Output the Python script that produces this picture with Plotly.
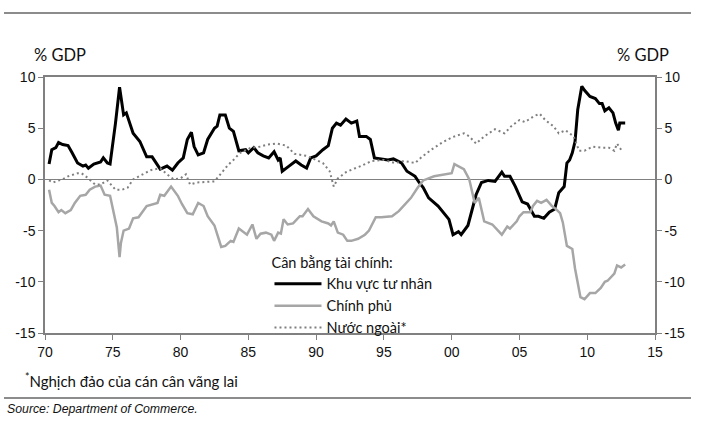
import plotly.graph_objects as go

# ---- data ----
private_x = [1970.3, 1970.5, 1970.8, 1971.0, 1971.3, 1971.7, 1972.0, 1972.2, 1972.4, 1972.8, 1973.0, 1973.2,
             1973.6, 1974.1, 1974.3, 1974.6, 1974.8, 1975.2, 1975.5, 1975.8, 1976.0, 1976.5, 1977.0, 1977.5,
             1977.9, 1978.5, 1979.0, 1979.4, 1979.8, 1980.2, 1980.5, 1980.8, 1981.0, 1981.3, 1981.7, 1982.0,
             1982.5, 1982.7, 1982.9, 1983.3, 1983.6, 1983.9, 1984.3, 1984.8, 1985.0, 1985.4, 1985.7, 1986.1,
             1986.5, 1986.9, 1987.2, 1987.35, 1987.5, 1988.0, 1988.5, 1988.9, 1989.3, 1989.6, 1990.0, 1990.5,
             1990.9, 1991.2, 1991.5, 1991.8, 1992.2, 1992.6, 1993.0, 1993.2, 1993.7, 1994.0, 1994.3, 1994.8,
             1995.3, 1995.7, 1996.3, 1996.7, 1997.3, 1997.6, 1997.9, 1998.3, 1999.0, 1999.8, 2000.1, 2000.5,
             2000.7, 2001.2, 2001.6, 2001.8, 2002.2, 2002.7, 2003.2, 2003.7, 2003.9, 2004.3, 2004.7, 2005.2,
             2005.6, 2006.1, 2006.4, 2006.8, 2007.2, 2007.6, 2007.9, 2008.3, 2008.5, 2008.7, 2008.9, 2009.1,
             2009.3, 2009.6, 2009.8, 2010.2, 2010.6, 2010.9, 2011.1, 2011.3, 2011.6, 2011.9, 2012.1, 2012.3,
             2012.4, 2012.8]
private_y = [1.5, 2.9, 3.1, 3.6, 3.4, 3.3, 2.6, 2.1, 1.6, 1.3, 1.4, 1.1,
             1.5, 1.7, 2.1, 1.6, 1.5, 5.5, 9.0, 6.3, 6.5, 4.5, 3.7, 2.2,
             2.2, 1.0, 1.3, 0.9, 1.6, 2.1, 3.9, 4.6, 3.2, 2.4, 2.6, 3.9,
             5.0, 5.2, 6.3, 6.3, 5.0, 4.7, 2.8, 2.9, 2.6, 3.1, 2.6, 2.3,
             2.1, 2.7, 1.9, 2.1, 0.8, 1.3, 1.8, 1.4, 1.1, 2.1, 2.3, 2.9,
             3.3, 5.0, 5.5, 5.3, 5.9, 5.5, 5.7, 4.2, 4.2, 3.9, 2.1, 2.0,
             1.9, 2.0, 1.6, 0.8, 0.3, -0.3, -0.8, -1.8, -2.6, -3.9, -5.4, -5.1,
             -5.4, -4.5, -2.3, -1.5, -0.3, -0.1, -0.2, 0.7, 0.3, 0.3, -0.7, -2.2,
             -2.4, -3.6, -3.6, -3.8, -3.2, -2.9, -1.3, -0.7, 1.6, 1.9, 2.6, 3.7,
             6.8, 9.1, 8.7, 8.1, 7.9, 7.4, 7.4, 6.7, 7.0, 6.5, 5.5, 4.8,
             5.5, 5.5]

gov_x = [1970.3, 1970.5, 1970.7, 1971.0, 1971.2, 1971.5, 1971.9, 1972.2, 1972.6, 1973.0, 1973.3, 1973.7,
         1974.1, 1974.4, 1974.8, 1975.0, 1975.3, 1975.5, 1975.6, 1975.8, 1976.2, 1976.5, 1976.9, 1977.5,
         1978.0, 1978.3, 1978.5, 1978.8, 1979.3, 1979.8, 1980.1, 1980.5, 1980.9, 1981.3, 1981.7, 1982.0,
         1982.5, 1983.0, 1983.3, 1983.7, 1983.9, 1984.3, 1984.9, 1985.3, 1985.6, 1985.9, 1986.3, 1986.7,
         1986.9, 1987.2, 1987.4, 1987.6, 1987.9, 1988.3, 1988.8, 1989.0, 1989.4, 1989.8, 1990.4, 1990.9,
         1991.1, 1991.3, 1991.6, 1992.0, 1992.3, 1992.6, 1993.1, 1993.6, 1993.9, 1994.4, 1994.8, 1995.6,
         1996.1, 1996.5, 1997.0, 1997.5, 1997.9, 1998.7, 1999.8, 2000.0, 2000.2, 2000.9, 2001.3, 2001.7,
         2002.0, 2002.4, 2003.0, 2003.7, 2004.1, 2004.3, 2004.8, 2005.0, 2005.3, 2005.8, 2006.0, 2006.3,
         2006.6, 2007.0, 2007.4, 2007.7, 2008.0, 2008.2, 2008.5, 2008.9, 2009.1, 2009.5, 2009.8, 2010.2,
         2010.6, 2011.0, 2011.3, 2011.5, 2012.0, 2012.2, 2012.5, 2012.8]
gov_y = [-1.0, -2.3, -2.6, -3.2, -3.0, -3.3, -3.0, -2.3, -1.6, -1.5, -1.0, -0.7,
         -0.6, -1.5, -1.6, -2.9, -4.7, -7.6, -6.2, -5.0, -4.8, -3.8, -3.7, -2.6,
         -2.4, -2.3, -1.5, -1.6, -0.7, -1.6, -2.4, -3.3, -3.4, -2.3, -2.6, -3.6,
         -4.5, -6.6, -6.5, -6.0, -6.1, -4.8, -5.4, -4.4, -5.8, -5.3, -5.2, -5.4,
         -6.0, -5.2, -5.3, -3.9, -4.4, -4.3, -3.6, -3.6, -2.9, -3.6, -4.1, -4.3,
         -4.5, -4.1, -5.2, -5.4, -6.0, -6.0, -5.8, -5.4, -5.0, -3.7, -3.7, -3.6,
         -3.1, -2.5, -1.8, -0.8, -0.1, 0.3, 0.6, 0.6, 1.5, 1.0, 0.0, -2.3,
         -1.8, -4.1, -4.4, -5.4, -4.6, -4.8, -4.1, -3.6, -3.2, -3.2, -2.6, -2.1,
         -2.3, -2.0, -2.6, -2.9, -3.3, -4.2, -6.5, -6.8, -8.7, -11.5, -11.7, -11.1,
         -11.1, -10.6, -10.0, -9.9, -9.2, -8.4, -8.6, -8.3]

foreign_x = [1970.3, 1970.6, 1971.0, 1971.3, 1971.7, 1972.4, 1972.7, 1973.1, 1973.7, 1974.1, 1974.6, 1975.2,
             1975.7, 1976.1, 1976.5, 1977.3, 1977.8, 1978.5, 1979.0, 1979.5, 1980.0, 1980.4, 1980.7, 1981.2,
             1982.0, 1982.5, 1983.0, 1983.5, 1983.9, 1984.4, 1985.2, 1985.9, 1986.4, 1987.1, 1987.8, 1988.4,
             1989.3, 1990.0, 1990.5, 1991.0, 1991.3, 1991.6, 1992.2, 1992.7, 1993.3, 1994.1, 1995.0, 1995.8,
             1996.5, 1997.3, 1997.8, 1998.5, 1999.3, 2000.0, 2000.9, 2001.3, 2001.8, 2002.4, 2003.2, 2003.9,
             2004.4, 2005.0, 2005.4, 2006.1, 2006.5, 2006.9, 2007.5, 2007.9, 2008.4, 2009.0, 2009.4, 2009.8,
             2010.4, 2011.1, 2011.6, 2012.0, 2012.2, 2012.5]
foreign_y = [-0.1, -0.3, -0.1, 0.0, 0.3, 0.6, 0.6, 0.2, -0.5, -0.5, -0.1, -1.0,
             -1.0, -0.8, 0.0, 0.6, 0.9, 1.1, 0.5, 0.0, 0.1, 0.5, -0.5, -0.3,
             -0.2, -0.2, 0.6, 1.4, 1.9, 2.6, 3.1, 3.2, 3.4, 3.5, 3.3, 2.5,
             2.3, 1.9, 1.6, 0.8, -0.7, 0.1, 0.7, 1.0, 1.3, 1.8, 1.9, 1.6,
             1.8, 1.6, 2.2, 2.9, 3.6, 4.1, 4.5, 4.2, 3.5, 4.2, 4.9, 4.5,
             5.2, 5.8, 5.6, 6.2, 6.4, 5.8, 5.2, 4.5, 4.8, 4.2, 2.8, 2.8,
             3.2, 3.1, 3.1, 2.8, 3.5, 2.9]

names = ["Khu vực tư nhân", "Chính phủ", "Nước ngoài*"]
legend_title = "Cân bằng tài chính:"
tick_years = [1970, 1975, 1980, 1985, 1990, 1995, 2000, 2005, 2010, 2015]
tick_labels = ["70", "75", "80", "85", "90", "95", "00", "05", "10", "15"]
y_ticks = [-15, -10, -5, 0, 5, 10]
y_tick_labels = ["-15", "-10", "-5", "0", "5", "10"]

AX = "#808080"
TICKFONT = dict(family="Liberation Sans, Arial", size=14, color="#111")
TXTFONT = "Lato, Open Sans, sans-serif"

fig = go.Figure()
fig.add_trace(go.Scatter(x=private_x, y=private_y, mode="lines", name=names[0],
                         line=dict(color="#000000", width=3)))
fig.add_trace(go.Scatter(x=gov_x, y=gov_y, mode="lines", name=names[1],
                         line=dict(color="#a6a6a6", width=2.5)))
fig.add_trace(go.Scatter(x=foreign_x, y=foreign_y, mode="lines", name=names[2],
                         line=dict(color="#7f7f7f", width=2, dash="2px,3px")))
# invisible trace to activate the right-hand axis
fig.add_trace(go.Scatter(x=[tick_years[0]], y=[0], yaxis="y2", mode="markers",
                         marker=dict(opacity=0), showlegend=False, hoverinfo="skip"))

fig.update_layout(
    width=701, height=421,
    margin=dict(l=45, r=46, t=77, b=88),
    paper_bgcolor="white", plot_bgcolor="white",
    showlegend=True,
    legend=dict(
        title=dict(text=legend_title, font=dict(family=TXTFONT, size=14.5, color="#111")),
        font=dict(family=TXTFONT, size=14.5, color="#111"),
        x=0.368, y=0.328, xanchor="left", yanchor="top",
        bgcolor="rgba(0,0,0,0)", borderwidth=0, itemwidth=47,
        tracegroupgap=0,
    ),
    xaxis=dict(range=[1970, 2015], tickvals=tick_years, ticktext=tick_labels,
               ticks="outside", ticklen=5, tickcolor=AX, showline=True, linecolor=AX,
               linewidth=1.5, mirror=True, showgrid=False, zeroline=False, tickfont=TICKFONT),
    yaxis=dict(range=[-15, 10], tickvals=y_ticks, ticktext=y_tick_labels, ticks="outside",
               ticklen=5, tickcolor=AX, showline=True, linecolor=AX, linewidth=1.5, showgrid=False,
               zeroline=True, zerolinecolor=AX, zerolinewidth=1.2, tickfont=TICKFONT),
    yaxis2=dict(range=[-15, 10], tickvals=y_ticks, ticktext=y_tick_labels, overlaying="y",
                side="right", ticks="outside", ticklen=5, tickcolor=AX, showline=True,
                linecolor=AX, linewidth=1.5, showgrid=False, zeroline=False, tickfont=TICKFONT),
    annotations=[
        dict(text="% GDP", xref="paper", yref="paper", x=0.0238, y=1.086,
             xanchor="center", yanchor="middle", showarrow=False,
             font=dict(family=TXTFONT, size=16.5, color="#111")),
        dict(text="% GDP", xref="paper", yref="paper", x=0.981, y=1.086,
             xanchor="center", yanchor="middle", showarrow=False,
             font=dict(family=TXTFONT, size=16.5, color="#111")),
        dict(text="<sup>*</sup>Nghịch đảo của cán cân vãng lai", xref="paper", yref="paper",
             x=-0.036, y=-0.184, xanchor="left", yanchor="middle", showarrow=False,
             font=dict(family=TXTFONT, size=15, color="#111")),
        dict(text="<i>Source: Department of Commerce.</i>", xref="paper", yref="paper",
             x=-0.066, y=-0.297, xanchor="left", yanchor="middle", showarrow=False,
             font=dict(family="Liberation Sans, Arial", size=12.3, color="#111")),
    ],
    shapes=[
        dict(type="line", xref="paper", yref="paper", x0=-0.0672, x1=1.059, y0=1.25, y1=1.25,
             line=dict(color="#8c8c8c", width=2)),
        dict(type="line", xref="paper", yref="paper", x0=-0.0672, x1=1.059, y0=-0.254, y1=-0.254,
             line=dict(color="#8c8c8c", width=2)),
    ],
)

fig.write_html("out.html")
